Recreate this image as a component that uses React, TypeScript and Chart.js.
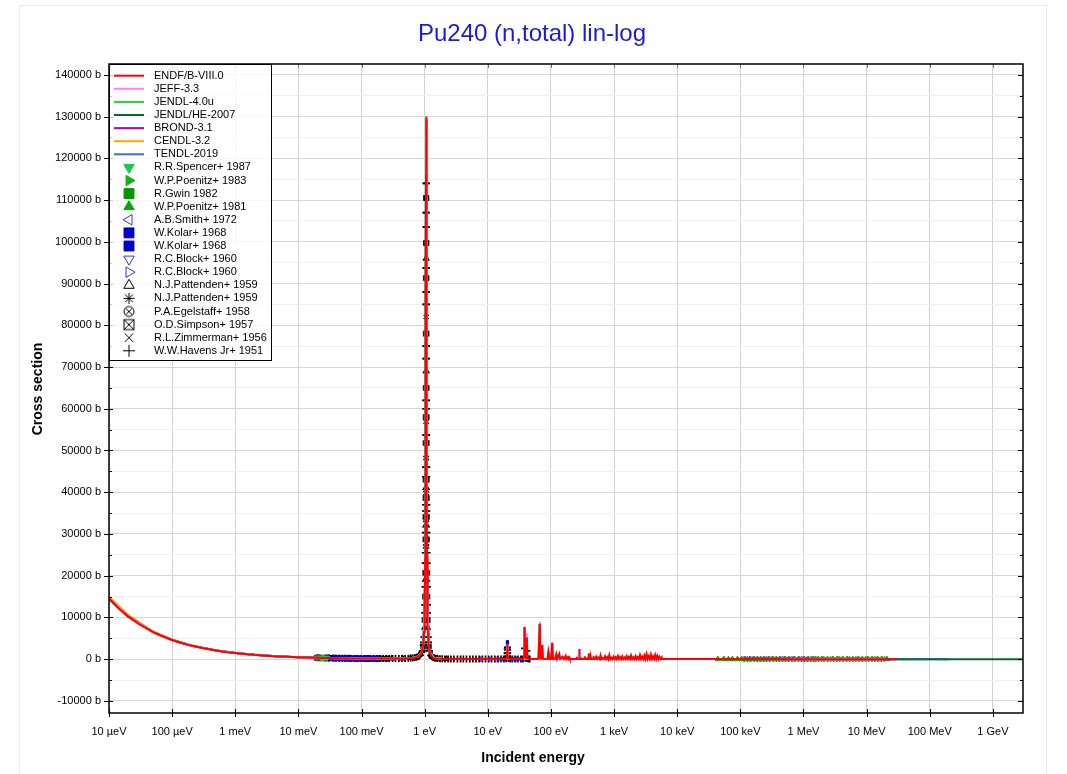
import React, { useEffect, useRef } from 'react';
import { Chart, registerables } from 'chart.js';
import { drawPoint } from 'chart.js/helpers';

Chart.register(...registerables);

type Pt = [number, number];

const FONT = "'Liberation Sans', Arial, Helvetica, sans-serif";

// ---------- axis ticks ----------
const xTickValues = [1e-5, 1e-4, 1e-3, 1e-2, 1e-1, 1, 10, 100, 1e3, 1e4, 1e5, 1e6, 1e7, 1e8, 1e9];
const xTickLabels = ['10 µeV', '100 µeV', '1 meV', '10 meV', '100 meV', '1 eV', '10 eV', '100 eV', '1 keV', '10 keV', '100 keV', '1 MeV', '10 MeV', '100 MeV', '1 GeV'];
const yMin = -12900;
const yMax = 142600;
const xMin = 1e-5;
const xMax = 3e9;

// ---------- evaluated data (energy eV, cross section b) ----------
const endfThermal: Pt[] = [
  [1e-5, 14500], [1.5e-5, 11850], [2e-5, 10260], [3e-5, 8380], [5e-5, 6490], [7e-5, 5490], [1e-4, 4590],
  [1.5e-4, 3750], [2e-4, 3250], [3e-4, 2650], [5e-4, 2060], [7e-4, 1740], [1e-3, 1460], [1.5e-3, 1190],
  [2e-3, 1030], [3e-3, 845], [5e-3, 655], [7e-3, 555], [1e-2, 465], [1.5e-2, 380], [2e-2, 330], [2.53e-2, 293],
  [3e-2, 270], [5e-2, 212], [7e-2, 182], [0.1, 158], [0.15, 142], [0.2, 135], [0.3, 138], [0.4, 155], [0.5, 190],
  [0.6, 255], [0.7, 375], [0.8, 670], [0.85, 980], [0.9, 1700],
];
const endfResonance: Pt[] = [
  [0.95, 3500], [0.98, 6500], [1.0, 11200], [1.02, 24000], [1.03, 38000], [1.04, 69000], [1.045, 88000],
  [1.05, 116000], [1.053, 127000], [1.056, 130000], [1.06, 123000], [1.065, 100000], [1.07, 77000], [1.08, 43000],
  [1.09, 25000], [1.1, 16500], [1.12, 8000], [1.15, 3900], [1.2, 1700], [1.3, 570], [1.4, 300], [1.6, 120], [2, 45],
  [3, 25], [5, 16], [8, 12], [12, 10], [16, 9], [19, 25], [20, 250], [20.3, 1800], [20.45, 3600], [20.6, 1500],
  [21, 150], [22, 25], [30, 10], [36, 30], [37.5, 500], [38.3, 7700], [39, 400], [40.5, 200], [41.6, 5200],
  [42.5, 150], [45, 20], [55, 15], [63, 60], [66.6, 8500], [68, 200], [70, 150], [72.8, 3400], [75, 80], [88, 40],
  [90.8, 1800], [92.5, 1000], [95, 60], [100, 50], [104.8, 3900], [108, 80], [115, 40], [121.4, 1200], [125, 40],
  [135.7, 1300], [140, 40], [152.3, 600], [160, 40], [170.6, 800], [175, 30], [185.5, 500], [190, 60], [195.6, 400],
];
const endfResolved: Pt[] = [
  [200, 30], [250, 28], [255, 30], [257, 600], [259, 30], [275, 30], [280, 40], [282, 2450], [284, 40], [300, 30],
  [305, 400], [308, 30], [340, 30], [345, 700], [349, 30], [380, 30], [385, 500], [389, 30], [396, 35], [400, 1300],
  [404, 35], [425, 30], [430, 300], [434, 30], [465, 30], [470, 800], [475, 25], [500, 20], [520, 600], [540, 15],
  [560, 400], [590, 10], [610, 900], [630, 20], [660, 300], [690, 15], [720, 700], [750, 20], [780, 500], [810, 10],
  [840, 1000], [870, 30], [900, 350], [940, 10], [980, 600], [1020, 20], [1060, 450], [1100, 10], [1150, 800],
  [1200, 20], [1250, 500], [1300, 5], [1350, 650], [1400, 20], [1460, 400], [1520, 10], [1580, 700], [1650, 15],
  [1720, 550], [1790, 5], [1860, 900], [1940, 20], [2020, 450], [2100, 10], [2190, 750], [2280, 20], [2370, 500],
  [2470, 5], [2570, 1000], [2680, 10], [2790, 600], [2900, 20], [3020, 850], [3140, 5], [3270, 1200], [3400, 15],
  [3540, 700], [3680, 5], [3830, 1100], [3980, 20], [4140, 650], [4310, 5], [4480, 1000], [4660, 10], [4850, 800],
  [5040, 15], [5240, 600], [5450, 20], [5670, 400], [5700, 25],
];
const endfFast: Pt[] = [
  [6000, 22], [1e4, 20], [3e4, 17], [1e5, 13], [3e5, 10.5], [1e6, 7.5], [3e6, 7.2], [1e7, 5.8], [2e7, 5.5], [3e7, 5.7],
];

const jeffPoints: Pt[] = [
  [1e-5, 14450], [2e-5, 10230], [5e-5, 6470], [1e-4, 4580], [2e-4, 3240], [5e-4, 2055], [1e-3, 1455], [2e-3, 1028],
  [5e-3, 653], [1e-2, 463], [2.53e-2, 292], [0.1, 157], [0.3, 137], [0.6, 252], [0.8, 665], [0.9, 1690], [0.95, 3480],
  [1.0, 11100], [1.02, 23800], [1.04, 68500], [1.05, 115000], [1.056, 129000], [1.06, 122000], [1.07, 76500],
  [1.08, 42800], [1.1, 16400], [1.15, 3880], [1.2, 1690], [1.4, 300], [2, 45], [10, 10], [20.1, 30], [20.45, 3500],
  [20.8, 30], [38, 40], [38.3, 7800], [38.6, 40], [41.3, 40], [41.6, 6200], [41.9, 30], [66.3, 40], [66.6, 9000],
  [66.9, 30], [72.5, 40], [72.8, 3500], [73.1, 30], [104.5, 40], [104.8, 4000], [105.1, 30], [281, 40], [282, 2500],
  [283, 30], [399, 40], [400, 1350], [401, 30], [1150, 30], [1160, 850], [1170, 20], [2560, 30], [2570, 1050],
  [2580, 10], [3260, 30], [3270, 1250], [3280, 15], [3820, 20], [3830, 1150], [3840, 20], [5700, 25], [1e4, 20],
  [1e5, 13], [1e6, 7.5], [2e7, 5.5],
];
const jendl4Points: Pt[] = [
  [1e-5, 14480], [2e-5, 10250], [5e-5, 6480], [1e-4, 4585], [2e-4, 3245], [5e-4, 2058], [1e-3, 1458], [2e-3, 1029],
  [5e-3, 654], [1e-2, 464], [2.53e-2, 292], [0.1, 157], [0.3, 137], [0.6, 253], [0.8, 668], [0.9, 1695], [0.95, 3490],
  [1.0, 11150], [1.02, 23900], [1.04, 68800], [1.05, 115500], [1.056, 129500], [1.06, 122500], [1.07, 76700],
  [1.08, 42900], [1.1, 16450], [1.15, 3890], [1.2, 1695], [1.4, 300], [2, 45], [10, 10], [20.1, 30], [20.45, 3550],
  [20.8, 30], [38, 40], [38.3, 7650], [38.6, 40], [41.3, 40], [41.6, 5150], [41.9, 30], [66.3, 40], [66.6, 8450],
  [66.9, 30], [72.5, 40], [72.8, 3380], [73.1, 30], [104.5, 40], [104.8, 3870], [105.1, 30], [5700, 25], [1e4, 20],
  [1e5, 13], [1e6, 7.5], [2e7, 5.5],
];
const jendlHePoints: Pt[] = [
  [1e-5, 14470], [2e-5, 10240], [5e-5, 6475], [1e-4, 4582], [2e-4, 3242], [5e-4, 2056], [1e-3, 1457], [2e-3, 1028],
  [5e-3, 653], [1e-2, 463], [2.53e-2, 292], [0.1, 157], [0.3, 137], [0.6, 252], [0.8, 666], [0.9, 1692], [0.95, 3485],
  [1.0, 11120], [1.02, 23850], [1.04, 68600], [1.05, 115200], [1.056, 129200], [1.06, 122200], [1.07, 76600],
  [1.08, 42850], [1.1, 16420], [1.15, 3885], [1.2, 1692], [1.4, 300], [2, 45], [10, 10], [20.1, 30], [20.45, 3520],
  [20.8, 30], [38, 40], [38.3, 7600], [38.6, 40], [41.3, 40], [41.6, 5100], [41.9, 30], [66.3, 40], [66.6, 8400],
  [66.9, 30], [5700, 25], [1e4, 20], [1e5, 13], [1e6, 7.5], [2e7, 5.5], [1e8, 4.9], [1e9, 4.3], [3e9, 4.1],
];
const brondPoints: Pt[] = [
  [1e-5, 14460], [2e-5, 10235], [5e-5, 6472], [1e-4, 4581], [2e-4, 3241], [5e-4, 2056], [1e-3, 1456], [2e-3, 1028],
  [5e-3, 653], [1e-2, 463], [2.53e-2, 292], [0.1, 157], [0.3, 137], [0.6, 252], [0.8, 665], [0.9, 1690], [0.95, 3480],
  [1.0, 11100], [1.02, 23800], [1.04, 68500], [1.05, 115000], [1.056, 129000], [1.06, 122000], [1.07, 76500],
  [1.08, 42800], [1.1, 16400], [1.15, 3880], [1.2, 1690], [1.4, 300], [2, 45], [10, 10], [20.1, 30], [20.45, 3500],
  [20.8, 30], [38, 40], [38.3, 7600], [38.6, 40], [41.3, 40], [41.6, 5100], [41.9, 30], [66.3, 40], [66.6, 8400],
  [66.9, 30], [5700, 25], [1e4, 20], [1e5, 13], [1e6, 7.5], [2e7, 5.5],
];
const cendlPoints: Pt[] = [
  [1e-5, 15000], [2e-5, 10600], [5e-5, 6680], [1e-4, 4700], [2e-4, 3320], [5e-4, 2090], [1e-3, 1475], [2e-3, 1040],
  [5e-3, 660], [1e-2, 468], [2.53e-2, 294], [0.1, 158], [0.3, 137], [0.6, 252], [0.8, 665], [0.9, 1690], [0.95, 3480],
  [1.0, 11100], [1.02, 23800], [1.04, 68500], [1.05, 115000], [1.056, 129000], [1.06, 122000], [1.07, 76500],
  [1.08, 42800], [1.1, 16400], [1.15, 3880], [1.2, 1690], [1.4, 300], [2, 45], [10, 10], [20.1, 30], [20.45, 3500],
  [20.8, 30], [38, 40], [38.3, 7600], [38.6, 40], [41.3, 40], [41.6, 5100], [41.9, 30], [66.3, 40], [66.6, 8400],
  [66.9, 30], [5700, 25], [1e4, 20], [1e5, 13], [1e6, 7.5], [2e7, 5.5],
];
const tendlPoints: Pt[] = [
  [1e-5, 14490], [2e-5, 10255], [5e-5, 6485], [1e-4, 4588], [2e-4, 3247], [5e-4, 2059], [1e-3, 1459], [2e-3, 1029],
  [5e-3, 654], [1e-2, 464], [2.53e-2, 293], [0.1, 157], [0.3, 137], [0.6, 253], [0.8, 668], [0.9, 1695], [0.95, 3490],
  [1.0, 11150], [1.02, 23900], [1.04, 68800], [1.05, 115500], [1.056, 129500], [1.06, 122500], [1.07, 76700],
  [1.08, 42900], [1.1, 16450], [1.15, 3890], [1.2, 1695], [1.4, 300], [2, 45], [10, 10], [20.1, 30], [20.45, 3550],
  [20.8, 30], [38, 40], [38.3, 7650], [38.6, 40], [41.3, 40], [41.6, 5150], [41.9, 30], [66.3, 40], [66.6, 8450],
  [66.9, 30], [399, 40], [400, 1400], [401, 30], [1790, 20], [1800, 700], [1810, 20], [5700, 25], [1e4, 20],
  [1e5, 13], [1e6, 7.5], [2e7, 5.5], [5e7, 5.2], [1e8, 4.9], [2e8, 4.6],
];

// ---------- experimental data ----------
const spencer1987: Pt[] = [[0.0235, 305], [0.0253, 292], [0.028, 278]];
const poenitz1983: Pt[] = [
  [1.6e6, 7.3], [1.8e6, 7.2], [2.0e6, 7.1], [2.2e6, 7.0], [2.5e6, 7.0], [2.8e6, 7.0], [3.1e6, 7.1], [3.5e6, 7.2],
  [3.9e6, 7.3], [4.4e6, 7.3], [5.0e6, 7.2], [5.6e6, 7.0], [6.3e6, 6.8], [7.0e6, 6.5], [7.9e6, 6.2], [8.9e6, 6.0],
  [1.0e7, 5.8], [1.12e7, 5.7], [1.26e7, 5.6], [1.41e7, 5.6], [1.58e7, 5.6], [1.78e7, 5.6], [2.0e7, 5.7],
];
const gwin1982: Pt[] = [[0.02, 332], [0.0225, 312]];
const poenitz1981: Pt[] = [
  [4.4e4, 14.5], [5.5e4, 14.0], [6.5e4, 13.6], [7.5e4, 13.3], [9e4, 12.9], [1.05e5, 12.5], [1.2e5, 12.2],
  [1.4e5, 11.9], [1.6e5, 11.6], [1.85e5, 11.3], [2.1e5, 11.0], [2.4e5, 10.7], [2.8e5, 10.4], [3.2e5, 10.1],
  [3.7e5, 9.8], [4.3e5, 9.4], [5e5, 9.0], [6e5, 8.6], [7e5, 8.2], [8.5e5, 7.8], [1e6, 7.6], [1.2e6, 7.4],
  [1.4e6, 7.3], [1.7e6, 7.2], [2e6, 7.1], [2.4e6, 7.0], [2.9e6, 7.0], [3.5e6, 7.2], [4.2e6, 7.3], [5e6, 7.2],
  [6e6, 6.9], [7.2e6, 6.4], [8.6e6, 6.0], [1.03e7, 5.8], [1.23e7, 5.6], [1.47e7, 5.6], [1.75e7, 5.6], [2.1e7, 5.7],
];
const smith1972: Pt[] = [
  [1.1e5, 12.3], [1.25e5, 12.1], [1.4e5, 11.9], [1.6e5, 11.6], [1.8e5, 11.3], [2e5, 11.1], [2.25e5, 10.8],
  [2.5e5, 10.6], [2.8e5, 10.4], [3.2e5, 10.1], [3.6e5, 9.8], [4e5, 9.6], [4.5e5, 9.3], [5e5, 9.0], [5.6e5, 8.8],
  [6.3e5, 8.5], [7e5, 8.2], [8e5, 7.9], [9e5, 7.7], [1e6, 7.6], [1.12e6, 7.5], [1.26e6, 7.4], [1.4e6, 7.3], [1.5e6, 7.3],
];
const kolar1968a: Pt[] = [
  [0.0195, 335], [0.022, 318], [0.025, 296], [0.028, 280], [0.032, 262], [0.036, 250], [0.041, 236], [0.047, 222],
  [0.054, 208], [0.062, 196], [0.071, 185], [0.082, 175], [0.094, 165], [0.108, 156], [0.124, 150], [0.142, 145],
  [0.16, 142], [0.174, 140],
];
const kolar1968b: Pt[] = [
  [15, 22], [17, 25], [18.5, 40], [19.5, 120], [20.3, 3000], [20.4, 3600], [20.45, 4200], [20.5, 3900],
  [22, 60], [24, 30], [27, 22], [31, 20], [35, 30], [38.3, 900], [41.6, 700], [43, 60], [45, 30],
];
const block1960a: Pt[] = [[0.0253, 300], [0.035, 255], [0.05, 215], [0.07, 188], [0.1, 160]];
const block1960b: Pt[] = [[8, 14], [11, 13], [14, 15], [17, 22], [25, 18], [30, 16]];
const pattenden1959a: Pt[] = [
  [1.0459, 96000], [1.0661, 96000], [1.040, 69000], [1.072, 69000], [1.031, 41000], [1.0811, 41000],
  [1.0263, 32000], [1.0858, 32000], [1.0149, 19000], [1.0971, 19000], [0.9873, 7500], [1.1247, 7500],
  [0.3, 145], [0.45, 175], [0.6, 260], [0.75, 480], [1.3, 600], [1.6, 150], [2.2, 50],
];
const pattenden1959b: Pt[] = [[0.02, 340], [0.03, 275], [0.045, 225], [0.065, 190], [0.09, 165], [0.13, 150], [0.2, 138]];
const egelstaff1958: Pt[] = [[0.0215, 320], [0.027, 290], [0.038, 245], [0.055, 205], [0.08, 175], [0.12, 152], [0.18, 140], [0.25, 135]];
const simpson1957: Pt[] = [
  [1.0489, 110500], [1.0631, 110500], [1.0466, 99700], [1.0654, 99700], [1.0449, 91300], [1.0671, 91300],
  [1.0421, 78000], [1.0699, 78000], [1.039, 65000], [1.073, 65000], [1.0371, 58000], [1.0749, 58000],
  [1.0351, 51800], [1.0769, 51800], [1.0318, 43000], [1.0802, 43000], [1.0298, 38600], [1.0822, 38600],
  [1.0275, 34100], [1.0845, 34100], [1.0241, 28700], [1.0879, 28700], [1.0169, 20700], [1.0951, 20700],
  [1.0089, 15000], [1.1031, 15000], [0.9951, 9400], [1.1169, 9400], [0.945, 3000], [1.167, 3000],
];
const zimmerman1956: Pt[] = [
  [1.043, 82000], [1.069, 82000],
  [1.0367, 56900], [1.0753, 56900], [1.0339, 48200], [1.0781, 48200], [1.0304, 39800], [1.0816, 39800],
  [1.0271, 33400], [1.0849, 33400], [1.0228, 27000], [1.0892, 27000], [0.88, 1200], [1.232, 1200],
  [0.035, 258], [0.06, 198], [0.11, 156], [0.22, 136],
];
const havens1951: Pt[] = [
  [0.028, 285], [0.031, 268], [0.035, 255], [0.039, 242], [0.044, 232], [0.049, 218], [0.055, 208], [0.062, 198],
  [0.069, 188], [0.078, 180], [0.087, 170], [0.098, 162], [0.11, 156], [0.123, 150], [0.138, 146], [0.155, 141],
  [0.174, 138], [0.195, 136], [0.22, 134], [0.245, 135], [0.275, 137], [0.31, 140], [0.345, 146], [0.39, 153],
  [0.435, 165], [0.49, 185], [0.55, 215], [0.6, 255], [0.65, 300], [0.7, 370], [0.75, 480], [0.8, 660],
  [0.85, 970], [0.9, 1650], [0.95, 3400],
  [1.0496, 114000], [1.0624, 114000], [1.0481, 107000], [1.0639, 107000], [1.0474, 103500], [1.0646, 103500],
  [1.0454, 93700], [1.0666, 93700], [1.0443, 88000], [1.0678, 88000], [1.0436, 85000], [1.0684, 85000],
  [1.0414, 75000], [1.0706, 75000], [1.0407, 72000], [1.0713, 72000], [1.0382, 62000], [1.0738, 62000],
  [1.0376, 60000], [1.0744, 60000], [1.0357, 53700], [1.0763, 53700], [1.033, 46000], [1.079, 46000],
  [1.0321, 43700], [1.0799, 43700], [1.029, 37000], [1.083, 37000], [1.0283, 35500], [1.0837, 35500],
  [1.0252, 30300], [1.0868, 30300], [1.0216, 25500], [1.0904, 25500], [1.0193, 23000], [1.0927, 23000],
  [1.0126, 17300], [1.0994, 17300], [1.005, 13000], [1.107, 13000], [1.0004, 11100], [1.1116, 11100],
  [0.9735, 5300], [1.1385, 5300], [0.9606, 4000], [1.1514, 4000], [0.92, 2000], [1.192, 2000],
  [1.25, 900], [1.3, 560], [1.36, 400], [1.43, 290], [1.5, 200], [1.6, 150], [1.75, 100], [1.9, 70], [2.1, 50],
  [2.35, 38], [2.6, 30], [2.9, 26], [3.3, 22], [3.7, 20], [4.1, 18], [4.6, 17], [5.2, 16], [5.8, 15], [6.5, 14],
  [7.3, 13], [8.2, 12], [9.2, 12], [10.3, 11], [11.5, 11], [12.9, 10], [14.5, 11], [16.2, 12], [18, 20],
  [19.5, 80], [20.15, 600], [20.25, 1500], [20.35, 2400], [20.45, 2800], [20.55, 2200], [20.65, 1400],
  [20.75, 700], [21, 200], [22.5, 40], [24.5, 25], [27, 20], [30, 20], [33.5, 22], [36, 40], [37.5, 500],
  [38.3, 2600], [39.2, 300], [40.5, 150], [41.6, 2000], [42.5, 200], [44, 40], [46, 25],
];

// ---------- helpers ----------
const toXY = (pts: Pt[]) => pts.map(([x, y]) => ({ x, y }));

function makeSymbol(kind: string, r: number, color: string, lw: number): HTMLCanvasElement {
  const s = Math.ceil(r * 2 + 4);
  const c = document.createElement('canvas');
  c.width = s;
  c.height = s;
  const g = c.getContext('2d') as CanvasRenderingContext2D;
  g.strokeStyle = color;
  g.lineWidth = lw;
  const m = s / 2;
  if (kind === 'circleX') {
    g.beginPath();
    g.arc(m, m, r, 0, Math.PI * 2);
    g.stroke();
    const d = r * Math.SQRT1_2;
    g.beginPath();
    g.moveTo(m - d, m - d); g.lineTo(m + d, m + d);
    g.moveTo(m + d, m - d); g.lineTo(m - d, m + d);
    g.stroke();
  } else {
    g.strokeRect(m - r, m - r, 2 * r, 2 * r);
    g.beginPath();
    g.moveTo(m - r, m - r); g.lineTo(m + r, m + r);
    g.moveTo(m + r, m - r); g.lineTo(m - r, m + r);
    g.stroke();
  }
  return c;
}

function lineSet(label: string, pts: Pt[], color: string) {
  return {
    label, data: toXY(pts), borderColor: color, backgroundColor: color, borderWidth: 2,
    pointRadius: 0, fill: false, tension: 0, showLine: true, isLine: true,
  };
}

function markSet(label: string, pts: Pt[], color: string, style: any, rot: number, filled: boolean, r: number, bw: number, legendStyle: any, legendR: number) {
  return {
    label, data: toXY(pts), showLine: false, isLine: false,
    pointStyle: style, pointRotation: rot, pointRadius: r,
    pointBackgroundColor: filled ? color : 'rgba(0,0,0,0)', pointBorderColor: color, pointBorderWidth: bw,
    borderColor: color, backgroundColor: color,
    legendStyle, legendRadius: legendR, legendColor: color, legendFilled: filled,
  };
}

const yTickValues: number[] = [];
for (let v = -10000; v <= 140000; v += 5000) yTickValues.push(v);

const decorPlugin = {
  id: 'decor',
  beforeDraw(chart: any) {
    const ctx = chart.ctx;
    ctx.save();
    ctx.fillStyle = '#ffffff';
    ctx.fillRect(0, 0, chart.width, chart.height);
    ctx.strokeStyle = '#ebebeb';
    ctx.lineWidth = 1;
    ctx.strokeRect(19.5, 5.5, 1027, 800);
    ctx.restore();
  },
  afterDraw(chart: any) {
    const ctx = chart.ctx as CanvasRenderingContext2D;
    const a = chart.chartArea;
    const xs = chart.scales.x;
    const ys = chart.scales.y;
    ctx.save();
    ctx.lineWidth = 1;
    for (const v of xTickValues) {
      const px = Math.round(xs.getPixelForValue(v)) + 0.5;
      ctx.strokeStyle = '#000';
      ctx.beginPath();
      ctx.moveTo(px, a.bottom - 4); ctx.lineTo(px, a.bottom + 4);
      ctx.stroke();
      ctx.strokeStyle = '#777';
      ctx.beginPath();
      ctx.moveTo(px, a.top); ctx.lineTo(px, a.top + 4);
      ctx.stroke();
    }
    ctx.strokeStyle = '#000';
    for (const v of yTickValues) {
      const py = Math.round(ys.getPixelForValue(v)) + 0.5;
      const major = v % 10000 === 0;
      ctx.beginPath();
      if (major) {
        ctx.moveTo(a.left - 5, py); ctx.lineTo(a.left + 4, py);
        ctx.moveTo(a.right - 5, py); ctx.lineTo(a.right, py);
      } else {
        ctx.moveTo(a.left, py); ctx.lineTo(a.left + 3, py);
        ctx.moveTo(a.right - 3, py); ctx.lineTo(a.right, py);
      }
      ctx.stroke();
    }
    ctx.lineWidth = 1.5;
    ctx.strokeStyle = '#000';
    ctx.strokeRect(a.left, a.top, a.right - a.left, a.bottom - a.top);

    ctx.fillStyle = '#1c1ccc';
    ctx.font = `24px ${FONT}`;
    ctx.textAlign = 'center';
    ctx.textBaseline = 'middle';
    ctx.fillText('Pu240 (n,total) lin-log', 532, 34);
    ctx.fillStyle = '#000';
    ctx.font = `bold 14px ${FONT}`;
    ctx.fillText('Incident energy', 533, 758);
    ctx.save();
    ctx.translate(38, 389);
    ctx.rotate(-Math.PI / 2);
    ctx.fillText('Cross section', 0, 0);
    ctx.restore();

    const lx = a.left;
    const ly = a.top;
    const lw = 162;
    const lh = 296;
    ctx.fillStyle = 'rgba(255,255,255,0.8)';
    ctx.fillRect(lx, ly, lw, lh);
    ctx.strokeStyle = '#000';
    ctx.lineWidth = 1;
    ctx.strokeRect(lx + 0.5, ly + 0.5, lw, lh);
    ctx.font = `11px ${FONT}`;
    ctx.textAlign = 'left';
    ctx.textBaseline = 'middle';
    chart.data.datasets.forEach((ds: any, i: number) => {
      const y = ly + 11.7 + i * 13.1;
      if (ds.isLine) {
        ctx.strokeStyle = ds.borderColor;
        ctx.lineWidth = 2;
        ctx.beginPath();
        ctx.moveTo(lx + 5, y); ctx.lineTo(lx + 35, y);
        ctx.stroke();
      } else {
        ctx.save();
        ctx.strokeStyle = ds.legendColor;
        ctx.fillStyle = ds.legendFilled ? ds.legendColor : 'rgba(0,0,0,0)';
        ctx.lineWidth = 1;
        drawPoint(ctx, { pointStyle: ds.legendStyle, rotation: ds.pointRotation, radius: ds.legendRadius, borderWidth: 1 } as any, lx + 20, y);
        ctx.restore();
      }
      ctx.fillStyle = '#000';
      ctx.fillText(ds.label, lx + 45, y);
    });
    ctx.restore();
  },
};

export default function App() {
  const ref = useRef<HTMLCanvasElement>(null);
  useEffect(() => {
    const canvas = ref.current;
    if (!canvas) return;
    const cxSmall = makeSymbol('circleX', 2.5, '#000', 1.5);
    const cxBig = makeSymbol('circleX', 5, '#000', 1);
    const sxSmall = makeSymbol('squareX', 2, '#000', 1.5);
    const sxBig = makeSymbol('squareX', 5, '#000', 1);

    const green1 = 'rgb(30,200,80)';
    const green2 = 'rgb(20,180,20)';
    const green3 = 'rgb(0,150,0)';
    const green4 = 'rgb(10,160,10)';
    const blueOpen = 'rgb(50,50,235)';
    const blueFill = 'rgb(0,0,200)';
    const black = '#000';

    const datasets: any[] = [
      lineSet('ENDF/B-VIII.0', [...endfThermal, ...endfResonance, ...endfResolved, ...endfFast], 'rgb(255,0,0)'),
      lineSet('JEFF-3.3', jeffPoints, 'rgb(255,128,255)'),
      lineSet('JENDL-4.0u', jendl4Points, 'rgb(50,205,50)'),
      lineSet('JENDL/HE-2007', jendlHePoints, 'rgb(0,110,40)'),
      lineSet('BROND-3.1', brondPoints, 'rgb(204,0,153)'),
      lineSet('CENDL-3.2', cendlPoints, 'rgb(255,165,0)'),
      lineSet('TENDL-2019', tendlPoints, 'rgb(65,105,225)'),
      markSet('R.R.Spencer+ 1987', spencer1987, green1, 'triangle', 180, true, 3.5, 1, 'triangle', 6),
      markSet('W.P.Poenitz+ 1983', poenitz1983, green2, 'triangle', 90, true, 3, 1, 'triangle', 6),
      markSet('R.Gwin 1982', gwin1982, green3, 'rect', 0, true, 3.5, 1, 'rect', 7),
      markSet('W.P.Poenitz+ 1981', poenitz1981, green4, 'triangle', 0, true, 3, 1, 'triangle', 6),
      markSet('A.B.Smith+ 1972', smith1972, blueOpen, 'triangle', 270, false, 3, 1, 'triangle', 6),
      markSet('W.Kolar+ 1968', kolar1968a, blueFill, 'rect', 0, true, 3.5, 1, 'rect', 7),
      markSet('W.Kolar+ 1968', kolar1968b, blueFill, 'rect', 0, true, 1.5, 1, 'rect', 7),
      markSet('R.C.Block+ 1960', block1960a, blueOpen, 'triangle', 180, false, 3.5, 1, 'triangle', 6),
      markSet('R.C.Block+ 1960', block1960b, blueOpen, 'triangle', 90, false, 3, 1, 'triangle', 6),
      markSet('N.J.Pattenden+ 1959', pattenden1959a, black, 'triangle', 0, false, 2.5, 1.5, 'triangle', 6),
      markSet('N.J.Pattenden+ 1959', pattenden1959b, black, 'star', 0, false, 3.5, 1.5, 'star', 5.5),
      markSet('P.A.Egelstaff+ 1958', egelstaff1958, black, cxSmall, 0, false, 3, 1.5, cxBig, 5),
      markSet('O.D.Simpson+ 1957', simpson1957, black, sxSmall, 0, false, 2.5, 1.5, sxBig, 5),
      markSet('R.L.Zimmerman+ 1956', zimmerman1956, black, 'crossRot', 0, false, 3, 1.5, 'crossRot', 6),
      markSet('W.W.Havens Jr+ 1951', havens1951, black, 'cross', 0, false, 3.5, 1.7, 'cross', 6),
    ];

    const chart = new Chart(canvas, {
      type: 'line',
      data: { datasets },
      plugins: [decorPlugin as any],
      options: {
        animation: false,
        responsive: false,
        devicePixelRatio: 1,
        events: [],
        parsing: false,
        layout: { padding: { left: 0, top: 64, right: 44, bottom: 0 } },
        plugins: { legend: { display: false }, title: { display: false }, tooltip: { enabled: false } },
        scales: {
          x: {
            type: 'logarithmic',
            min: xMin,
            max: xMax,
            afterBuildTicks: (s: any) => { s.ticks = xTickValues.map((v) => ({ value: v })); },
            afterFit: (s: any) => { s.height = 61; },
            ticks: {
              autoSkip: false,
              maxRotation: 0,
              padding: 12,
              color: '#000',
              font: { family: FONT, size: 11 },
              callback: (v: any) => { const k = xTickValues.indexOf(Number(v)); return k >= 0 ? xTickLabels[k] : ''; },
            },
            grid: { color: '#d2d2d2', lineWidth: 1, drawTicks: false },
            border: { display: false },
          },
          y: {
            type: 'linear',
            min: yMin,
            max: yMax,
            afterBuildTicks: (s: any) => { s.ticks = yTickValues.map((v) => ({ value: v })); },
            afterFit: (s: any) => { s.width = 109; },
            ticks: {
              autoSkip: false,
              padding: 8,
              color: '#000',
              font: { family: FONT, size: 11 },
              callback: (v: any) => (Number(v) % 10000 === 0 ? `${v} b` : ''),
            },
            grid: {
              color: (c: any) => (c.tick && c.tick.value % 10000 === 0 ? '#d6d6d6' : '#efefef'),
              lineWidth: 1,
              drawTicks: false,
            },
            border: { display: false },
          },
        },
      } as any,
    });
    return () => chart.destroy();
  }, []);
  return (
    <div style={{ position: 'fixed', left: 0, top: 0, width: 1067, height: 774 }}>
      <canvas ref={ref} width={1067} height={774} style={{ display: 'block', width: 1067, height: 774 }} />
    </div>
  );
}
